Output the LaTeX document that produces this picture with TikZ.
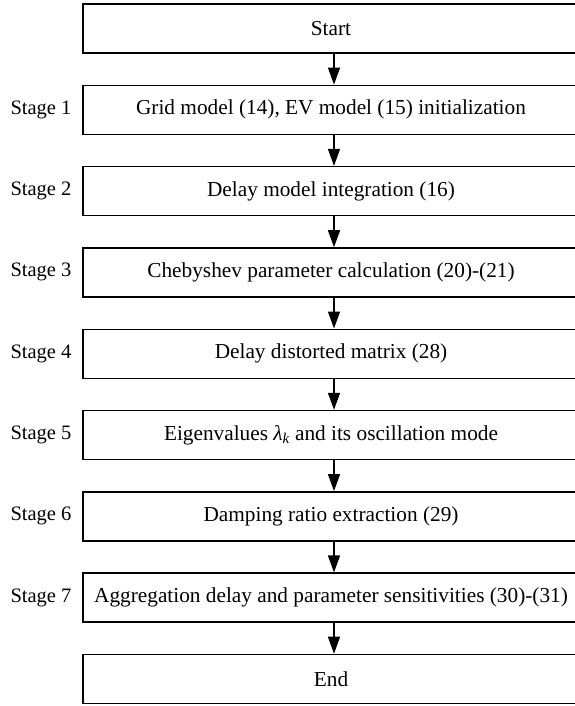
\documentclass[tikz,border=0pt]{standalone}
\usepackage{fontspec}
\setmainfont{Liberation Serif}
\usetikzlibrary{arrows.meta}
\begin{document}
\begin{tikzpicture}[x=1pt,y=-1pt,
  stagebox/.style={draw, line width=1.4pt, minimum width=496pt, minimum height=49pt, inner sep=0pt, font=\fontsize{21.3}{25}\selectfont},
  stagelab/.style={inner sep=0pt, font=\fontsize{20.5}{24}\selectfont},
  flowarrow/.style={line width=1.4pt, -{Triangle[length=17pt,width=12pt]}}]
\useasboundingbox (0,0) rectangle (574,706);
\node[stagebox] (s0) at (331,28.5) {Start};
\node[stagebox] (s1) at (331,109.8) {Grid model (14), EV model (15) initialization};
\node[stagebox] (s2) at (331,191.1) {Delay model integration (16)};
\node[stagebox] (s3) at (331,272.4) {Chebyshev parameter calculation (20)-(21)};
\node[stagebox] (s4) at (331,353.7) {Delay distorted matrix (28)};
\node[stagebox] (s5) at (331,435.0) {Eigenvalues {\itshape λ}\textsubscript{\itshape k} and its oscillation mode};
\node[stagebox] (s6) at (331,516.3) {Damping ratio extraction (29)};
\node[stagebox] (s7) at (331,597.6) {Aggregation delay and parameter sensitivities (30)-(31)};
\node[stagebox] (s8) at (331,678.9) {End};
\node[stagelab] (l1) at (41,109.8) {Stage 1};
\node[stagelab] (l2) at (41,191.1) {Stage 2};
\node[stagelab] (l3) at (41,272.4) {Stage 3};
\node[stagelab] (l4) at (41,353.7) {Stage 4};
\node[stagelab] (l5) at (41,435.0) {Stage 5};
\node[stagelab] (l6) at (41,516.3) {Stage 6};
\node[stagelab] (l7) at (41,597.6) {Stage 7};
\foreach \a/\b in {s0/s1,s1/s2,s2/s3,s3/s4,s4/s5,s5/s6,s6/s7,s7/s8}
  \draw[flowarrow] ([xshift=3pt]\a.south) -- ([xshift=3pt]\b.north);
\end{tikzpicture}
\end{document}
